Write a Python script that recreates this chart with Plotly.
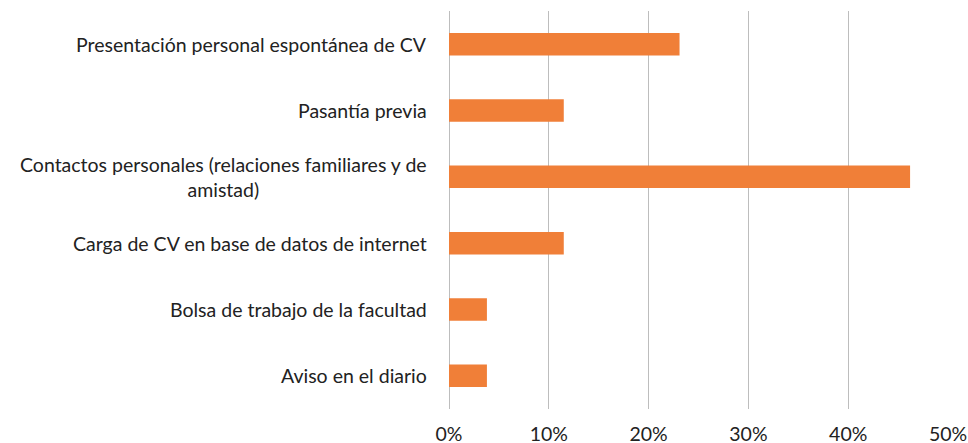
import plotly.graph_objects as go

categories = [
    "Presentación personal espontánea de CV",
    "Pasantía previa",
    "Contactos personales (relaciones familiares y de<br>amistad)",
    "Carga de CV en base de datos de internet",
    "Bolsa de trabajo de la facultad",
    "Aviso en el diario",
]
shares = [23.1, 11.5, 46.2, 11.5, 3.8, 3.8]
tick_values = [0, 10, 20, 30, 40, 50]
tick_labels = ["0%", "10%", "20%", "30%", "40%", "50%"]

FONT = "Lato"
FONT_SIZE = 19.5
TEXT_COLOR = "#222222"
BAR_COLOR = "#F07F38"
GRID_COLOR = "#bdbdbd"

fig = go.Figure(
    go.Bar(
        x=shares,
        y=list(range(len(categories))),
        orientation="h",
        width=0.34,
        marker=dict(color=BAR_COLOR, line=dict(width=0)),
        hoverinfo="skip",
    )
)

# Category labels as annotations so the wrapped label centres its lines
for i, name in enumerate(categories):
    fig.add_annotation(
        x=0, xref="paper", y=i, yref="y",
        text=name, showarrow=False,
        xanchor="right", yanchor="middle", align="center",
        xshift=-20,
        font=dict(family=FONT, size=FONT_SIZE, color=TEXT_COLOR),
    )

fig.update_layout(
    width=968, height=443,
    margin=dict(l=449, r=20, t=11, b=34, autoexpand=False),
    paper_bgcolor="white", plot_bgcolor="white",
    showlegend=False,
    xaxis=dict(
        range=[0, 50],
        tickvals=tick_values, ticktext=tick_labels,
        showgrid=True, gridcolor=GRID_COLOR, gridwidth=1.4,
        zeroline=True, zerolinecolor=GRID_COLOR, zerolinewidth=1.4,
        showline=False, automargin=False,
        ticks="", ticklabelstandoff=11,
        tickfont=dict(family=FONT, size=FONT_SIZE, color=TEXT_COLOR),
        fixedrange=True,
    ),
    yaxis=dict(
        range=[5.5, -0.5],
        showticklabels=False, showgrid=False, zeroline=False,
        ticks="", fixedrange=True, automargin=False,
    ),
)

fig.write_html("out.html")
